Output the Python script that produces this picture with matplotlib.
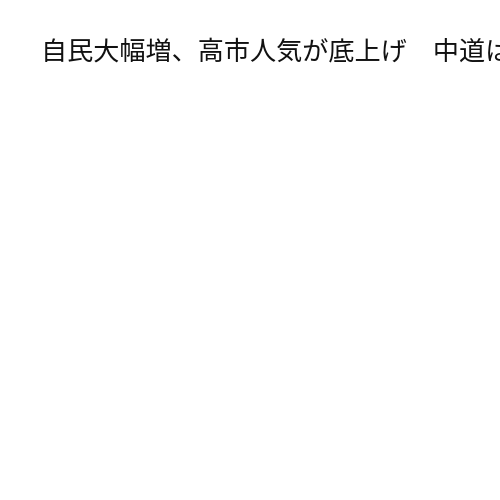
import matplotlib
matplotlib.use('Agg')
import matplotlib.pyplot as plt

plt.rcParams['font.family'] = ['Noto Sans CJK JP', 'DejaVu Sans']

title_text = '自民大幅増、高市人気が底上げ\u3000中道は'

fig = plt.figure(figsize=(5, 5), dpi=100)
fig.patch.set_facecolor('white')
fig.text(0.082, 0.897, title_text, fontsize=18.8, ha='left', va='center',
         color='#111111', fontweight='normal')
fig.savefig('out.png', dpi=100)
